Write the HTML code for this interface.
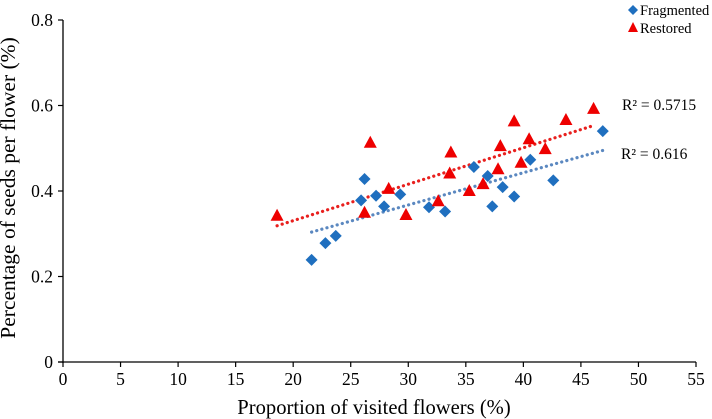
<!DOCTYPE html>
<html><head><meta charset="utf-8"><style>
html,body{margin:0;padding:0;background:#fff;}
svg{display:block;font-family:"Liberation Serif",serif;}
</style></head><body>
<svg id="chart" width="712" height="419" viewBox="0 0 712 419" xmlns="http://www.w3.org/2000/svg"></svg>
<script>
const xTicks=[0,5,10,15,20,25,30,35,40,45,50,55];
const yTicks=[0,0.2,0.4,0.6,0.8];
const yTickLabels=["0","0.2","0.4","0.6","0.8"];
const fragX=[21.6,22.8,23.7,25.9,26.2,27.2,27.9,29.3,31.8,33.2,35.7,36.9,37.3,38.2,39.2,40.6,42.6,46.9];
const fragY=[0.239,0.278,0.295,0.378,0.428,0.389,0.364,0.392,0.362,0.352,0.456,0.435,0.364,0.409,0.387,0.473,0.425,0.540];
const restX=[18.6,26.2,26.7,28.3,29.8,32.6,33.6,33.7,35.3,36.5,37.8,38.0,39.2,39.8,40.5,41.9,43.7,46.1];
const restY=[0.342,0.349,0.513,0.405,0.344,0.376,0.441,0.490,0.400,0.416,0.451,0.505,0.563,0.466,0.521,0.498,0.566,0.592];
const r2Labels=["R² = 0.616","R² = 0.5715"];

const L=63,R=696,T=20,B=362;
const sx=v=>L+(v-0)/(55-0)*(R-L);
const sy=v=>B-(v-0)/(0.8-0)*(B-T);
const svg=document.getElementById('chart');
const NS='http://www.w3.org/2000/svg';
function mk(tag,attrs,parent){const e=document.createElementNS(NS,tag);for(const k in attrs)e.setAttribute(k,attrs[k]);(parent||svg).appendChild(e);return e;}

let e=mk('line',{x1:L,y1:T,x2:L,y2:B+1,stroke:'#000','stroke-width':1.3});


e=mk('line',{x1:L-5,y1:B,x2:R,y2:B,stroke:'#000','stroke-width':1.3});


xTicks.forEach(t=>{
  const x=sx(t);
  let l=mk('line',{x1:x,y1:B,x2:x,y2:B+5,stroke:'#000','stroke-width':1.2});
  
  
  let tx=mk('text',{x:x,y:B+23,'text-anchor':'middle','font-size':17.5});
  tx.textContent=t;
  
  
});
yTicks.forEach((t,i)=>{
  const y=sy(t);
  let l=mk('line',{x1:L-5,y1:y,x2:L,y2:y,stroke:'#000','stroke-width':1.2});
  
  
  let tx=mk('text',{x:L-10,y:y+6,'text-anchor':'end','font-size':17.5});
  tx.textContent=yTickLabels[i];
  
  
});
e=mk('text',{x:0,y:0,'text-anchor':'middle','font-size':21.5,transform:`translate(15,188) rotate(-90)`});
e.textContent='Percentage of seeds per flower (%)';


e=mk('text',{x:374,y:414,'text-anchor':'middle','font-size':20.6});
e.textContent='Proportion of visited flowers (%)';



function fit(xs,ys){const n=xs.length;let mx=0,my=0;for(let i=0;i<n;i++){mx+=xs[i];my+=ys[i];}mx/=n;my/=n;let a=0,b=0;for(let i=0;i<n;i++){a+=(xs[i]-mx)*(ys[i]-my);b+=(xs[i]-mx)**2;}const m=a/b;return [m,my-m*mx];}
function trend(xs,ys,color,name){
  const [m,c]=fit(xs,ys);const x0=Math.min(...xs),x1=Math.max(...xs);
  let l=mk('line',{x1:sx(x0),y1:sy(m*x0+c),x2:sx(x1),y2:sy(m*x1+c),stroke:color,'stroke-width':3.2,'stroke-dasharray':'0.1 5.2','stroke-linecap':'round'});
  
  
}
trend(fragX,fragY,'#5b88c0','fragmented-trendline');
trend(restX,restY,'#e8201e','restored-trendline');

fragX.forEach((x,i)=>{
  const cx=sx(x),cy=sy(fragY[i]);
  let p=mk('polygon',{points:`${cx},${cy-6} ${cx+6},${cy} ${cx},${cy+6} ${cx-6},${cy}`,fill:'#1f6fbf'});
  
  
});
restX.forEach((x,i)=>{
  const cx=sx(x),cy=sy(restY[i]);
  let p=mk('polygon',{points:`${cx},${cy-7} ${cx+6.5},${cy+5} ${cx-6.5},${cy+5}`,fill:'#ee0000'});
  
  
});

e=mk('text',{x:621,y:159,'font-size':15.5});
e.textContent=r2Labels[0];


e=mk('text',{x:622,y:110,'font-size':15.5});
e.textContent=r2Labels[1];



const lg=mk('g',{});


let g1=mk('g',{},lg);


mk('polygon',{points:'633,5 638,10 633,15 628,10',fill:'#1f6fbf'},g1);
let t1=mk('text',{x:640,y:15,'font-size':14.5},g1);t1.textContent='Fragmented';
let g2=mk('g',{},lg);


mk('polygon',{points:'633,22 638,32 628,32',fill:'#ee0000'},g2);
let t2=mk('text',{x:640,y:33,'font-size':14.5},g2);t2.textContent='Restored';
</script>
</body></html>
